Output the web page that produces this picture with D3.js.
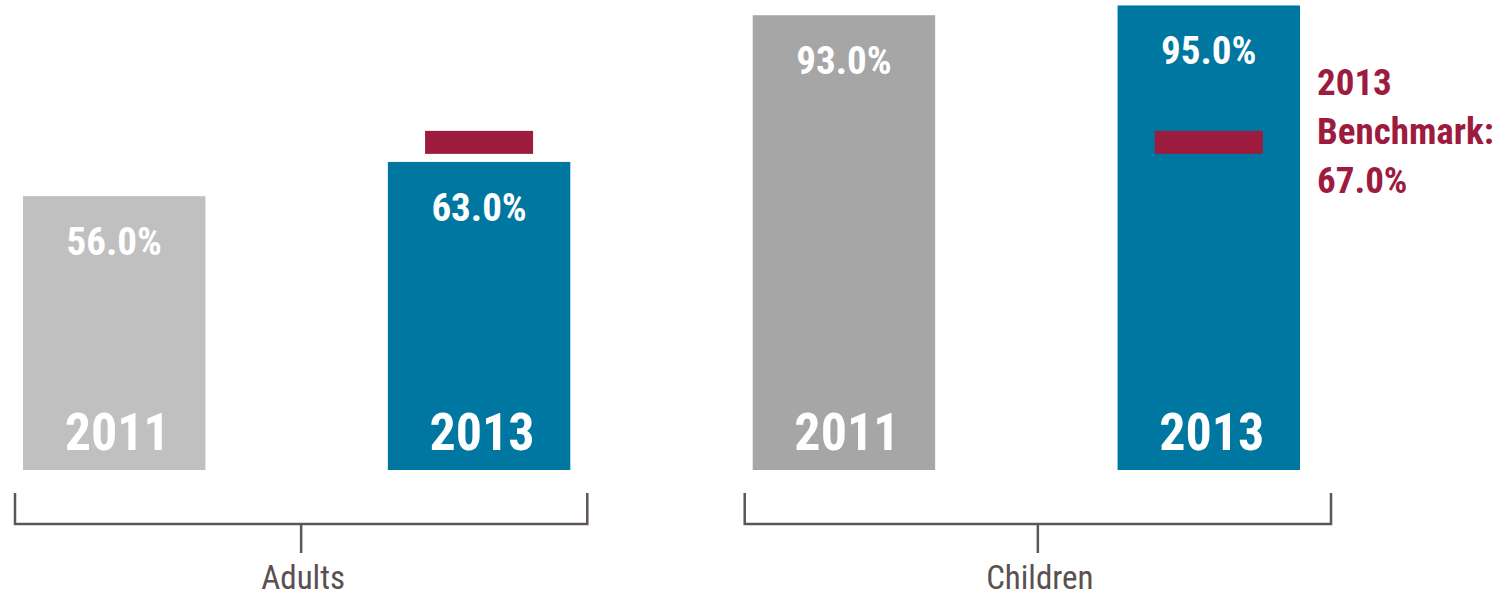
<!DOCTYPE html>
<html>
<head>
<meta charset="utf-8">
<script src="https://cdn.jsdelivr.net/npm/d3@7"></script>
<style>
  html, body { margin: 0; padding: 0; background: #ffffff; }
  svg { display: block; }
  text { font-family: "Liberation Sans Narrow", "Arial Narrow", "Roboto Condensed", "DejaVu Sans Condensed", sans-serif; }
</style>
</head>
<body>
<svg id="chart" width="1507" height="596"></svg>
<script>
// Groups and years shown
const groups = ["Adults", "Children"];
const years = ["2011", "2013"];

// Percentage of each group per year (order follows `years`)
const adultValues = [56.0, 63.0];
const childValues = [93.0, 95.0];

// 2013 benchmark per group
const benchmarkValues = [67.0, 67.0];
const benchmarkLabel = ["2013", "Benchmark:", "67.0%"];

const svg = d3.select("#chart");

const rows = [];
groups.forEach((g, gi) => {
  const vals = gi === 0 ? adultValues : childValues;
  years.forEach((yr, yi) => rows.push({ group: g, year: yr, value: vals[yi], key: g + "-" + yr }));
});

const x = d3.scaleBand()
  .domain(rows.map(d => d.key))
  .range([23, 1300])
  .paddingInner(0.5)
  .paddingOuter(0);

const y = d3.scaleLinear().domain([0, 100]).range([470, -19]);

const fill = d => d.year === "2013" ? "#0077a0" : (d.group === "Adults" ? "#c0c0c0" : "#a6a6a6");

const bars = svg.append("g").selectAll("g").data(rows).join("g");

bars.append("rect")
  .attr("x", d => x(d.key))
  .attr("y", d => y(d.value))
  .attr("width", x.bandwidth())
  .attr("height", d => y(0) - y(d.value))
  .attr("fill", fill);

// value labels near top of each bar
bars.append("text")
  .attr("x", d => x(d.key) + x.bandwidth() / 2)
  .attr("y", d => y(d.value) + 59)
  .attr("text-anchor", "middle")
  .attr("fill", "#ffffff")
  .attr("font-weight", "bold")
  .attr("font-size", 39)
  .text(d => d.value.toFixed(1) + "%");

// year labels at the bottom of each bar
bars.append("text")
  .attr("x", d => x(d.key) + x.bandwidth() / 2 + 3)
  .attr("y", 450)
  .attr("text-anchor", "middle")
  .attr("fill", "#ffffff")
  .attr("font-weight", "bold")
  .attr("font-size", 52)
  .text(d => d.year);

// benchmark markers over the 2013 bars
const bench = groups.map((g, i) => ({ key: g + "-2013", value: benchmarkValues[i] }));
svg.append("g").selectAll("rect").data(bench).join("rect")
  .attr("x", d => x(d.key) + x.bandwidth() / 2 - 54)
  .attr("y", d => y(d.value) - 11.5)
  .attr("width", 108)
  .attr("height", 23)
  .attr("fill", "#9c1b3e");

// benchmark annotation
svg.append("text")
  .attr("x", 1317)
  .attr("y", 95)
  .attr("fill", "#9c1b3e")
  .attr("font-weight", "bold")
  .attr("font-size", 37)
  .selectAll("tspan").data(benchmarkLabel).join("tspan")
  .attr("x", 1317)
  .attr("dy", (d, i) => i === 0 ? 0 : 49)
  .text(d => d);

// group brackets with labels
const pad = { Adults: [8, 17], Children: [8, 31] };
const brackets = svg.append("g")
  .selectAll("g").data(groups).join("g");

brackets.each(function (g) {
  const sel = d3.select(this);
  const left = x(g + "-2011") - pad[g][0];
  const right = x(g + "-2013") + x.bandwidth() + pad[g][1];
  const mid = (left + right) / 2;
  const top = 493, base = 524, tip = 553;
  sel.append("path")
    .attr("d", `M${left},${top}V${base}H${right}V${top}M${mid},${base}V${tip}`)
    .attr("fill", "none")
    .attr("stroke", "#5e5656")
    .attr("stroke-width", 2.5);
  sel.append("text")
    .attr("x", mid + 2)
    .attr("y", 589)
    .attr("text-anchor", "middle")
    .attr("fill", "#5a5050")
    .attr("font-size", 33)
    .text(g);
});
</script>
</body>
</html>
